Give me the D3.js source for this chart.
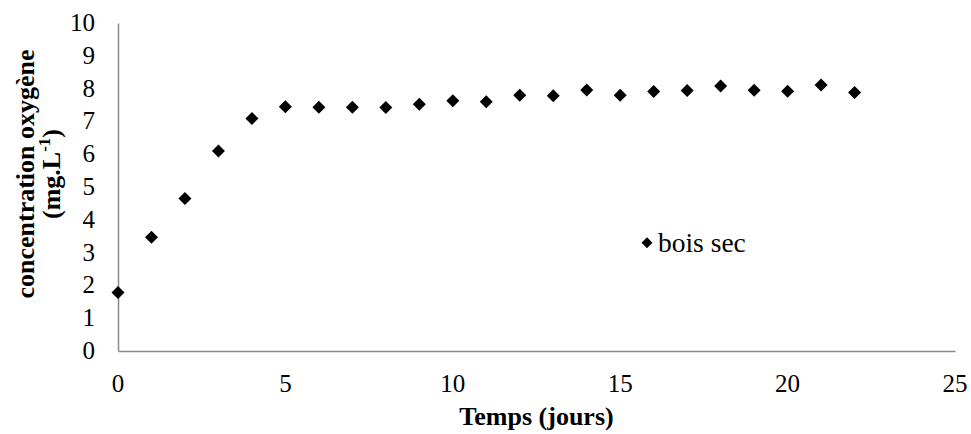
<!DOCTYPE html>
<html>
<head>
<meta charset="utf-8">
<script src="https://cdn.jsdelivr.net/npm/d3@7"></script>
<style>
  body { margin: 0; background: #fff; }
  svg { display: block; }
</style>
</head>
<body>
<script>
// dissolved oxygen over time, dry wood run
const days = [0, 1, 2, 3, 4, 5, 6, 7, 8, 9, 10, 11, 12, 13, 14, 15, 16, 17, 18, 19, 20, 21, 22];
const oxygen = [1.78, 3.47, 4.65, 6.1, 7.09, 7.45, 7.43, 7.43, 7.42, 7.52, 7.63, 7.6, 7.8, 7.78, 7.96, 7.8, 7.91, 7.94, 8.08, 7.95, 7.92, 8.11, 7.88];
const xTicks = [0, 5, 10, 15, 20, 25];
const yTicks = [0, 1, 2, 3, 4, 5, 6, 7, 8, 9, 10];
const seriesName = 'bois sec';

const W = 971, H = 434;
const m = { left: 118, right: 16, top: 23, bottom: 83 };
const serif = '"Liberation Serif"';

const svg = d3.select('body').append('svg').attr('width', W).attr('height', H);

const x = d3.scaleLinear().domain([0, 25]).range([m.left, W - m.right]);
const y = d3.scaleLinear().domain([0, 10]).range([H - m.bottom, m.top]);

const axisColor = '#898989';

// axis lines only; labels are placed as plain text below
const xAxis = svg.append('g')
  .attr('transform', `translate(0,${y(0)})`)
  .call(d3.axisBottom(x).tickValues([]).tickSize(0));
const yAxis = svg.append('g')
  .attr('transform', `translate(${x(0)},0)`)
  .call(d3.axisLeft(y).tickValues([]).tickSize(0));
[xAxis, yAxis].forEach(g => g.select('.domain').attr('stroke', axisColor).attr('stroke-width', 1.5));

const fmt = d3.format('d');
svg.selectAll('text.xtick').data(xTicks).join('text')
  .attr('class', 'xtick')
  .attr('x', d => x(d)).attr('y', y(0) + 41)
  .attr('text-anchor', 'middle')
  .style('font-family', serif).style('font-size', '25px').attr('fill', '#000')
  .text(fmt);
svg.selectAll('text.ytick').data(yTicks).join('text')
  .attr('class', 'ytick')
  .attr('x', x(0) - 23).attr('y', d => y(d)).attr('dy', '0.32em')
  .attr('text-anchor', 'end')
  .style('font-family', serif).style('font-size', '25px').attr('fill', '#000')
  .text(fmt);

const diamond = (cx, cy, r) => `M${cx},${cy - r}L${cx + r},${cy}L${cx},${cy + r}L${cx - r},${cy}Z`;

svg.append('g').selectAll('path')
  .data(days.map((d, i) => [d, oxygen[i]]))
  .join('path')
  .attr('d', d => diamond(x(d[0]), y(d[1]), 6.5))
  .attr('fill', '#000');

// legend inside the plot
const lx = x(15.8), ly = y(3.3);
svg.append('path').attr('d', diamond(lx, ly, 5.5)).attr('fill', '#000');
svg.append('text').attr('x', lx + 11).attr('y', ly).attr('dy', '0.33em')
  .style('font-family', serif).style('font-size', '27.5px').text(seriesName);

// axis titles
svg.append('text')
  .attr('x', (x(0) + x(25)) / 2).attr('y', 425)
  .attr('text-anchor', 'middle').style('font-family', serif).style('font-size', '26px').style('font-weight', 700)
  .text('Temps (jours)');

const yt = svg.append('text')
  .attr('transform', `translate(0,174) rotate(-90)`)
  .attr('text-anchor', 'middle').style('font-family', serif).style('font-size', '26px').style('font-weight', 700);
yt.append('tspan').attr('x', 0).attr('y', 34).text('concentration oxygène');
const l2 = yt.append('tspan').attr('x', 0).attr('y', 60);
l2.append('tspan').text('(mg.L');
l2.append('tspan').style('font-size', '17px').attr('dy', -10).text('-1');
l2.append('tspan').attr('dy', 10).text(')');
</script>
</body>
</html>
